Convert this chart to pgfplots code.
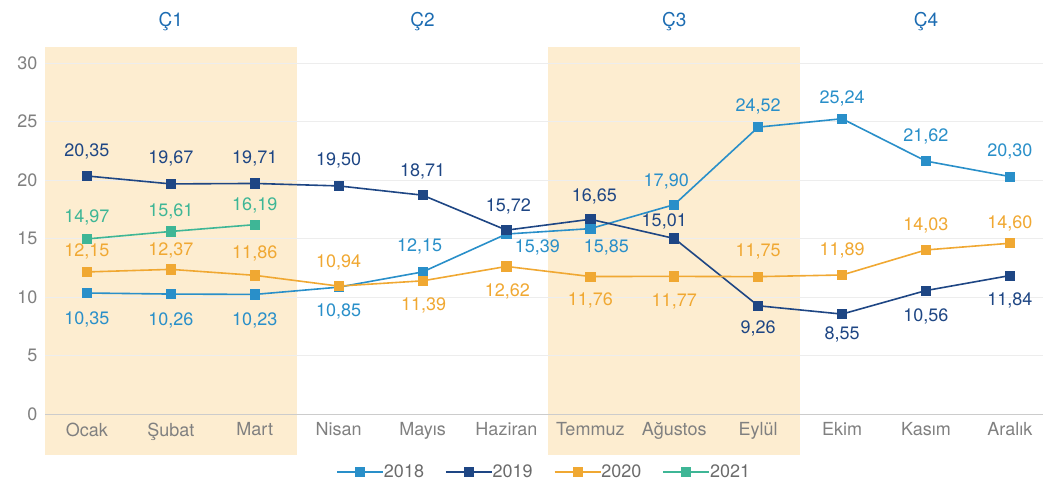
\documentclass[border=0pt]{standalone}
\usepackage{pgfplots}
\pgfplotsset{compat=1.18}
\usepackage{pgfplotstable}
\usepackage{fontspec}
\setmainfont{TeX Gyre Heros}
\definecolor{c18}{RGB}{41,143,201}
\definecolor{c19}{RGB}{30,70,132}
\definecolor{c20}{RGB}{240,168,50}
\definecolor{c21}{RGB}{62,182,150}
\definecolor{qshade}{RGB}{253,237,208}
\definecolor{qc}{RGB}{28,108,178}

\pgfplotstableread{
x y lbl dx dy
0 10.35 10,35 0 -26
1 10.26 10,26 0 -26
2 10.23 10,23 0 -26
3 10.85 10,85 0 -24
4 12.15 12,15 -3 25
5 15.39 15,39 31 -13
6 15.85 15,85 16 -19
7 17.90 17,90 -8 23
8 24.52 24,52 0 21
9 25.24 25,24 0 20
10 21.62 21,62 0 25
11 20.30 20,30 0 25
}\tA
\pgfplotstableread{
x y lbl dx dy
0 20.35 20,35 0 25
1 19.67 19,67 0 25
2 19.71 19,71 0 25
3 19.50 19,50 0 25
4 18.71 18,71 0 24
5 15.72 15,72 2 24
6 16.65 16,65 4 23
7 15.01 15,01 -10 17
8 9.26 9,26 0 -23
9 8.55 8,55 0 -20
10 10.56 10,56 0 -26
11 11.84 11,84 0 -25
}\tB
\pgfplotstableread{
x y lbl dx dy
0 12.15 12,15 0 20
1 12.37 12,37 0 19
2 11.86 11,86 0 22
3 10.94 10,94 0 24
4 11.39 11,39 1 -25
5 12.62 12,62 1 -25
6 11.76 11,76 0 -24
7 11.77 11,77 0 -25
8 11.75 11,75 0 25
9 11.89 11,89 0 25
10 14.03 14,03 0 24
11 14.60 14,60 0 20
}\tC
\pgfplotstableread{
x y lbl dx dy
0 14.97 14,97 0 21
1 15.61 15,61 0 20
2 16.19 16,19 0 19
}\tD

\pgfplotsset{
  lbls/.style={
    nodes near coords, point meta=explicit symbolic,
    visualization depends on={\thisrow{dx} \as \dx},
    visualization depends on={\thisrow{dy} \as \dy},
    every node near coord/.append style={anchor=center, xshift=\dx pt, yshift=\dy pt, text=#1, font=\fontsize{18}{21}\selectfont},
  }
}

\begin{document}
\begin{tikzpicture}
\begin{axis}[
  set layers,
  scale only axis, width=998pt, height=351pt,
  xmin=-0.5, xmax=11.4, ymin=0, ymax=30,
  clip=false,
  axis line style={draw=none},
  major tick length=0pt,
  xtick={0,...,11},
  xticklabels={Ocak,Şubat,Mart,Nisan,Mayıs,Haziran,Temmuz,Ağustos,Eylül,Ekim,Kasım,Aralık},
  ytick={0,5,...,30},
  ymajorgrids, grid style={black!7, line width=0.8pt},
  tick label style={text=black!50},
  font=\fontsize{18}{21}\selectfont,
  /pgf/number format/assume math mode=true,
  xticklabel style={yshift=-5pt},
  yticklabel style={xshift=-4pt},
  legend columns=4,
  legend style={at={(0.5,-0.165)}, anchor=center, draw=none, fill=none, text=black!58,
    /tikz/every even column/.append style={column sep=19pt},
    /tikz/every odd column/.append style={column sep=-2pt}},
  legend image code/.code={\draw[mark repeat=2,mark phase=2] plot coordinates {(0pt,0pt)(23pt,0pt)(46pt,0pt)};},
  every axis plot/.append style={line width=1.6pt, mark=square*, mark size=4.6pt, mark options={line width=0.8pt}},
]
\begin{pgfonlayer}{axis background}
\fill[qshade] (axis cs:-0.5,-3.5) rectangle (axis cs:2.5,31.4);
\fill[qshade] (axis cs:5.5,-3.5) rectangle (axis cs:8.5,31.4);
\end{pgfonlayer}
\draw[black!20, line width=1.2pt] (axis cs:-0.5,0) -- (axis cs:11.4,0);

\addplot[c18, lbls=c18] table[x=x, y=y, meta=lbl] {\tA};
\addlegendentry{2018}
\addplot[c19, lbls=c19] table[x=x, y=y, meta=lbl] {\tB};
\addlegendentry{2019}
\addplot[c20, lbls=c20] table[x=x, y=y, meta=lbl] {\tC};
\addlegendentry{2020}
\addplot[c21, lbls=c21] table[x=x, y=y, meta=lbl] {\tD};
\addlegendentry{2021}

\node[text=qc, font=\fontsize{19}{22}\selectfont] at (axis cs:1,33.5) {Ç1};
\node[text=qc, font=\fontsize{19}{22}\selectfont] at (axis cs:4,33.5) {Ç2};
\node[text=qc, font=\fontsize{19}{22}\selectfont] at (axis cs:7,33.5) {Ç3};
\node[text=qc, font=\fontsize{19}{22}\selectfont] at (axis cs:10,33.5) {Ç4};
\end{axis}
\path (current axis.south west) ++(-45pt,-72pt);
\path (current axis.north east) ++(0pt,63pt);
\end{tikzpicture}
\end{document}
